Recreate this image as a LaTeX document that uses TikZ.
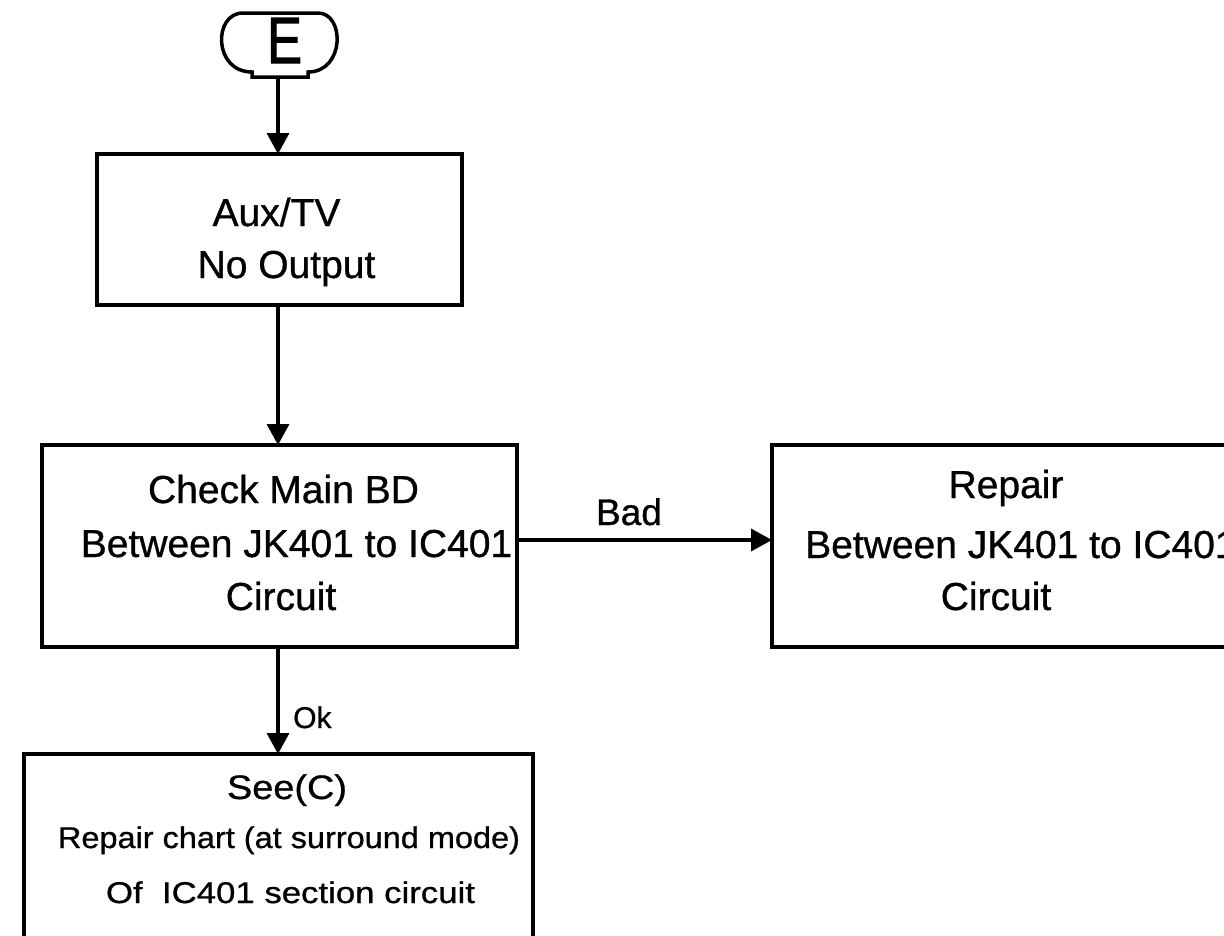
\documentclass[tikz,border=0pt]{standalone}
\usepackage{fontspec}
\setmainfont[FakeBold=0.8]{Liberation Sans}
\newfontfamily\Efont[FakeBold=2]{Liberation Sans}
\usetikzlibrary{arrows.meta}
\begin{document}
\begin{tikzpicture}[x=1pt,y=-1pt,
  box/.style={draw,line width=4pt,inner sep=0pt,outer sep=0pt},
  conn/.style={line width=3.5pt,-{Triangle[length=21pt,width=22pt]}},
  txt/.style={anchor=base,inner sep=0pt,font=\fontsize{39}{47}\selectfont},
  txtsm/.style={anchor=base,inner sep=0pt,font=\fontsize{30}{36}\selectfont},
  lbl/.style={inner sep=0pt,font=\fontsize{37}{44}\selectfont}
]
\useasboundingbox (0,0) rectangle (1224,935);
\clip (0,0) rectangle (1224,935);
% terminal E
\draw[line width=3.5pt] (243,13) -- (318,13) .. controls (345,13) and (345,72) .. (308,72)
  -- (308,77) -- (252,77) -- (252,72) .. controls (213,72) and (213,13) .. (243,13) -- cycle;
\node[inner sep=0pt,outer sep=0pt,minimum width=115pt,minimum height=64pt] (E) at (278,45) {};
\node[anchor=base,inner sep=0pt,font=\Efont\fontsize{63}{70}\selectfont] (Etxt) at (284.5,63) {\resizebox{35pt}{45pt}{E}};
\coordinate (ax) at (278,0);
% boxes
\node[box,minimum width=365pt,minimum height=151pt] (b1) at (279.5,229.5) {};
\node[box,minimum width=475pt,minimum height=202pt] (b2) at (279.5,546) {};
\node[box,minimum width=528pt,minimum height=202pt] (b3) at (1036,546) {};
\node[box,minimum width=509pt,minimum height=246pt] (b4) at (278.5,877) {};
% texts
\node[txt] (t1a) at (276.5,226) {Aux/TV};
\node[txt] (t1b) at (286.5,278) {No Output};
\node[txt] (t2a) at (283.5,503) {Check Main BD};
\node[txt] (t2b) at (296.5,557) {Between JK401 to IC401};
\node[txt] (t2c) at (281,610) {Circuit};
\node[txt] (t3a) at (1006,498) {Repair};
\node[txt,anchor=base west] (t3b) at (805,558) {Between JK401 to IC401};
\node[txt] (t3c) at (996,610) {Circuit};
\node[txt,font=\fontsize{34}{40}\selectfont] (t4a) at (287,799) {\resizebox{120pt}{\height}{See(C)}};
\node[txtsm] (t4b) at (289,848) {\resizebox{462pt}{\height}{Repair chart (at surround mode)}};
\node[txtsm] (t4c) at (290.5,903) {\resizebox{369pt}{\height}{Of\ \ IC401 section circuit}};
% connectors
\draw[conn] (E.south -| ax) -- (b1.north -| ax);
\draw[conn] (b1.south -| ax) -- (b2.north -| ax);
\draw[conn] ([yshift=6pt]b2.east) -- ([yshift=6pt]b3.west);
\draw[conn] (b2.south -| ax) -- (b4.north -| ax);
% labels
\node[lbl,anchor=base] (bad) at (629,525) {Bad};
\node[lbl,anchor=base west,font=\fontsize{30}{36}\selectfont] (ok) at (293,728) {Ok};
\end{tikzpicture}
\end{document}
